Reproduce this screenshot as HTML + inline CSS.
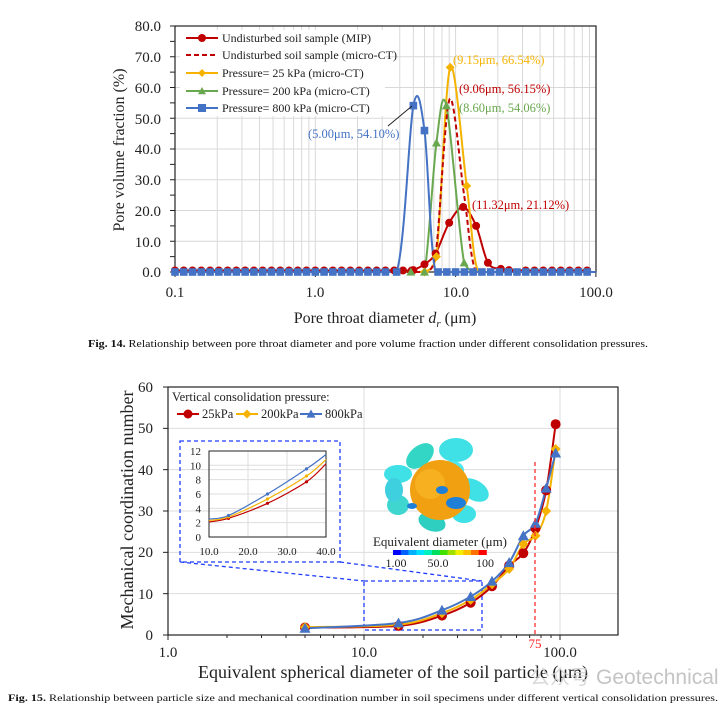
<!DOCTYPE html>
<html><head><meta charset="utf-8"><style>
html,body{margin:0;padding:0;background:#fff;width:726px;height:704px;overflow:hidden}
svg{display:block;font-family:"Liberation Serif","Noto Serif CJK SC",serif}
</style></head><body>
<svg id="s" width="726" height="704" viewBox="0 0 726 704" xmlns="http://www.w3.org/2000/svg">
<g font-size="15" fill="#222" text-anchor="end">
<text x="161" y="31">80.0</text><text x="161" y="62">70.0</text><text x="161" y="93">60.0</text><text x="161" y="124">50.0</text><text x="161" y="154">40.0</text><text x="161" y="185">30.0</text><text x="161" y="216">20.0</text><text x="161" y="247">10.0</text><text x="161" y="277">0.0</text>
</g>
<g font-size="15" fill="#222" text-anchor="middle">
<text x="175" y="297">0.1</text><text x="315" y="297">1.0</text><text x="456" y="297">10.0</text><text x="596" y="297">100.0</text>
</g>
<text x="0" y="0" font-size="16" fill="#222" text-anchor="middle" transform="translate(124,150) rotate(-90)">Pore volume fraction (%)</text>
<text x="385" y="323" font-size="16" fill="#222" text-anchor="middle">Pore throat diameter <tspan font-style="italic">d</tspan><tspan font-style="italic" font-size="11" dy="4">r</tspan><tspan dy="-4"> (μm)</tspan></text>
<text x="88" y="347" font-size="10" fill="#111" font-weight="bold" textLength="560" lengthAdjust="spacingAndGlyphs">Fig. 14.  <tspan font-weight="normal">Relationship between pore throat diameter and pore volume fraction under different consolidation pressures.</tspan></text>

<g font-size="15" fill="#222" text-anchor="end">
<text x="153" y="392">60</text><text x="153" y="433">50</text><text x="153" y="475">40</text><text x="153" y="516">30</text><text x="153" y="557">20</text><text x="153" y="599">10</text><text x="153" y="640">0</text>
</g>
<g font-size="15" fill="#222" text-anchor="middle">
<text x="168" y="657">1.0</text><text x="364" y="657">10.0</text><text x="560" y="657">100.0</text>
</g>
<text x="0" y="0" font-size="18" fill="#222" text-anchor="middle" transform="translate(133,510) rotate(-90)">Mechanical coordination number</text>
<text x="393" y="678" font-size="18" fill="#222" text-anchor="middle">Equivalent spherical diameter of the soil particle (μm)</text>
<text x="530" y="684" font-size="20" fill="#d0d0d0" font-family="Liberation Sans, 'Noto Sans CJK SC', sans-serif" opacity="0.8">公众号</text>
<text x="596" y="684" font-size="21" fill="#c4c4c4" font-family="Liberation Sans, sans-serif">Geotechnical</text>
<text x="8" y="701" font-size="9.5" fill="#111" font-weight="bold" textLength="710" lengthAdjust="spacingAndGlyphs">Fig. 15.  <tspan font-weight="normal">Relationship between particle size and mechanical coordination number in soil specimens under different vertical consolidation pressures.</tspan></text>
<g id="dyn"></g>
</svg>
<script>
var G=document.getElementById("dyn"),H="";
function L(a,b,c,d,st){H+='<line x1="'+a+'" y1="'+b+'" x2="'+c+'" y2="'+d+'" '+st+'/>';}
function smooth(p,cl){var d="M"+p[0][0]+","+p[0][1];for(var i=0;i<p.length-1;i++){var p0=p[i>0?i-1:i],p1=p[i],p2=p[i+1],p3=p[i+2<p.length?i+2:i+1];var t=0.16;
var c1x=p1[0]+(p2[0]-p0[0])*t,c1y=p1[1]+(p2[1]-p0[1])*t,c2x=p2[0]-(p3[0]-p1[0])*t,c2y=p2[1]-(p3[1]-p1[1])*t;
if(cl){c1y=Math.min(c1y,cl);c2y=Math.min(c2y,cl);if(p1[1]>=cl-0.5&&p2[1]>=cl-0.5){c1y=cl;c2y=cl;}
var dx=p2[0]-p1[0];c1x=Math.min(Math.max(c1x,p1[0]),p1[0]+dx*0.5);c2x=Math.max(Math.min(c2x,p2[0]),p2[0]-dx*0.5);}
d+=" C"+c1x+","+c1y+" "+c2x+","+c2y+" "+p2[0]+","+p2[1];}return d;}
function mk(t,x,y,c,r){if(t=="o")H+='<circle cx="'+x+'" cy="'+y+'" r="'+r+'" fill="'+c+'"/>';else if(t=="s")H+='<rect x="'+(x-r)+'" y="'+(y-r)+'" width="'+2*r+'" height="'+2*r+'" fill="'+c+'"/>';else if(t=="d")H+='<path d="M'+x+','+(y-r)+' L'+(x+r)+','+y+' L'+x+','+(y+r)+' L'+(x-r)+','+y+'Z" fill="'+c+'"/>';else H+='<path d="M'+x+','+(y-r)+' L'+(x+r)+','+(y+r*0.8)+' L'+(x-r)+','+(y+r*0.8)+'Z" fill="'+c+'"/>';}
var X1=function(v){return 175+140.3*(Math.log10(v)+1)},Y1=function(v){return 272-v*3.075};
var gs='stroke="#d9d9d9" stroke-width="1"';
for(var k=0;k<=8;k++)L(175,Y1(k*10),596,Y1(k*10),gs);
for(var e=-1;e<2;e++)for(var m=1;m<10;m++){var x=X1(m*Math.pow(10,e));L(x,26,x,272,gs);}
H+='<rect x="175" y="26" width="421" height="246" fill="none" stroke="#222" stroke-width="1.2"/>';
for(var k=0;k<=16;k++){L(170,Y1(k*5),175,Y1(k*5),'stroke="#222"');}
for(var e=-1;e<=2;e++){var x=X1(Math.pow(10,e));L(x,272,x,277,'stroke="#222"');}
H+='<rect x="180" y="30" width="205" height="86" fill="#fff"/>';
var RED="#c00000",YEL="#f5b300",GRN="#6aa84f",BLU="#4472c4";
var base=[];for(var i=0;i<48;i++)base.push(Math.pow(10,-1+i*0.0625));
var mip=[];base.forEach(function(v){if(v<5)mip.push([v,0.5]);});
mip=mip.concat([[5,0.6],[6,2.5],[7.2,6],[9,16],[11.32,21.12],[14,15],[17,3],[21,1],[24,0.6]]);
base.forEach(function(v){if(v>28)mip.push([v,0.5]);});
var mp=mip.map(function(a){return [X1(a[0]),Y1(a[1])]});
var B=Y1(0);
function P(a){return a.map(function(b){return [X1(b[0]),Y1(b[1])]})}
var ct=[[0.1,0],[5,0],[6.3,0],[7.3,8],[9.06,56.15],[11.5,25],[14,0],[100,0]];
var yw=[[0.1,0],[5,0],[6,0],[7.3,5],[9.15,66.54],[12,28],[14.5,0],[100,0]];
var gr=[[0.1,0],[4.8,0],[6,0],[7.3,42],[8.6,54.06],[11.5,3],[14.5,0],[100,0]];
var bl=[[0.1,0],[3.8,0],[5,54.1],[6,46],[7.2,0],[100,0]];
H+='<path d="'+smooth(mp,B)+'" fill="none" stroke="'+RED+'" stroke-width="2"/>';
H+='<path d="'+smooth(P(yw),B)+'" fill="none" stroke="'+YEL+'" stroke-width="2"/>';
H+='<path d="'+smooth(P(gr),B)+'" fill="none" stroke="'+GRN+'" stroke-width="2"/>';
H+='<path d="'+smooth(P(ct),B)+'" fill="none" stroke="'+RED+'" stroke-width="2" stroke-dasharray="5,3"/>';
H+='<path d="'+smooth(P(bl),B)+'" fill="none" stroke="'+BLU+'" stroke-width="2"/>';
mip.forEach(function(a){mk("o",X1(a[0]),Y1(a[1]),RED,4);});
[[7.3,5],[9.15,66.54],[12,28],[6,0]].forEach(function(a){mk("d",X1(a[0]),Y1(a[1]),YEL,4.5);});
[[7.3,42],[8.6,54.06],[11.5,3],[4.8,0],[6,0]].forEach(function(a){mk("t",X1(a[0]),Y1(a[1]),GRN,4.5);});
base.forEach(function(v){if(v<3.5||v>7)mk("s",X1(v),Y1(0),BLU,3.8);});
[[3.8,0],[5,54.1],[6,46]].forEach(function(a){mk("s",X1(a[0]),Y1(a[1]),BLU,3.8);});
var lg=[[38,RED,"o",0,"Undisturbed soil sample (MIP)"],[55,RED,"",1,"Undisturbed soil sample (micro-CT)"],[73,YEL,"d",0,"Pressure= 25 kPa (micro-CT)"],[91,GRN,"t",0,"Pressure= 200 kPa (micro-CT)"],[108,BLU,"s",0,"Pressure= 800 kPa (micro-CT)"]];
lg.forEach(function(r){L(186,r[0],218,r[0],'stroke="'+r[1]+'" stroke-width="2"'+(r[3]?' stroke-dasharray="5,3"':''));if(r[2])mk(r[2],202,r[0],r[1],4);H+='<text x="222" y="'+(r[0]+4)+'" font-size="12" fill="#222">'+r[4]+'</text>';});
H+='<text x="453" y="64" font-size="12.5" fill="'+YEL+'">(9.15μm, 66.54%)</text>';
H+='<text x="459" y="93" font-size="12.5" fill="'+RED+'">(9.06μm, 56.15%)</text>';
H+='<text x="459" y="112" font-size="12.5" fill="'+GRN+'">(8.60μm, 54.06%)</text>';
H+='<text x="308" y="138" font-size="12.5" fill="'+BLU+'">(5.00μm, 54.10%)</text>';
H+='<text x="472" y="209" font-size="12.5" fill="'+RED+'">(11.32μm, 21.12%)</text>';
L(388,126,412,106,'stroke="#222" stroke-width="1"');
// BOTTOM
var X2=function(v){return 168+196*Math.log10(v)},Y2=function(v){return 635-v*4.133};
for(var k=1;k<=6;k++)L(168,Y2(k*10),618,Y2(k*10),'stroke="#ddd"');
[10,100].forEach(function(v){L(X2(v),387,X2(v),635,'stroke="#ddd"');});
H+='<rect x="168" y="387" width="450" height="248" fill="none" stroke="#222" stroke-width="1.2"/>';
for(var e=0;e<3;e++)for(var m=1;m<10;m++){var x=X2(m*Math.pow(10,e));if(x<=618)L(x,635,x,m==1?640:638,'stroke="#222"');}
for(var k=0;k<=6;k++)L(163,Y2(k*10),168,Y2(k*10),'stroke="#222"');
H+='<g>';
[[420,456,16,10,"#33d6c4",-40],[456,450,17,12,"#3fe0e6",0],[398,474,14,9,"#3fe0e6",0],[474,490,16,10,"#3fe0e6",30],[398,505,11,10,"#3fd6d0",0],[432,522,14,9,"#2ecfc0",20],[464,514,12,9,"#3fe0e6",0],[394,490,9,12,"#3fd0e0",0],[452,470,12,9,"#4fe8f0",0]].forEach(function(c){H+='<ellipse cx="'+c[0]+'" cy="'+c[1]+'" rx="'+c[2]+'" ry="'+c[3]+'" fill="'+c[4]+'" transform="rotate('+c[5]+' '+c[0]+' '+c[1]+')"/>';});
H+='<circle cx="440" cy="490" r="30" fill="#f0a010"/><circle cx="430" cy="484" r="15" fill="#f7b020"/>';
H+='<ellipse cx="442" cy="490" rx="6" ry="4" fill="#1e7fd8"/><ellipse cx="456" cy="503" rx="10" ry="6" fill="#1e7fd8"/><ellipse cx="412" cy="506" rx="5" ry="3" fill="#1e7fd8"/>';
H+='</g>';
var cb=["#0000ff","#0060ff","#00b0ff","#00e0ff","#00f0c0","#00e060","#40e000","#a0e000","#f0f000","#ffc000","#ff7000","#ff0000"];
cb.forEach(function(c,i){H+='<rect x="'+(393+i*7.8)+'" y="550" width="8" height="5" fill="'+c+'"/>';});
H+='<text x="440" y="546" font-size="13" fill="#222" text-anchor="middle">Equivalent diameter (μm)</text>';
H+='<text x="396" y="567" font-size="12" fill="#222" text-anchor="middle">1.00</text><text x="438" y="567" font-size="12" fill="#222" text-anchor="middle">50.0</text><text x="485" y="567" font-size="12" fill="#222" text-anchor="middle">100</text>';
var db='stroke="#1f3cff" stroke-width="1.3" stroke-dasharray="4,3" fill="none"';
H+='<rect x="180" y="441" width="160" height="121" '+db+'/>';
H+='<rect x="364" y="581" width="118" height="49" '+db+'/>';
L(180,562,364,581,db);L(340,562,482,581,db);
var IX=function(v){return 209+(v-10)*3.9},IY=function(v){return 537-v*7.17};
for(var k=1;k<=6;k++)L(209,IY(k*2),326,IY(k*2),'stroke="#ddd"');
[20,30].forEach(function(v){L(IX(v),451,IX(v),537,'stroke="#ddd"');});
H+='<rect x="209" y="451" width="117" height="86" fill="none" stroke="#222" stroke-width="1"/>';
for(var k=0;k<=6;k++)H+='<text x="201" y="'+(IY(k*2)+4)+'" font-size="11" fill="#222" text-anchor="end">'+(k*2)+'</text>';
[10,20,30,40].forEach(function(v){H+='<text x="'+IX(v)+'" y="555" font-size="11" fill="#222" text-anchor="middle">'+v+'.0</text>';});
var ixs=[10,15,25,35,40];
[[RED,[2.1,2.6,4.7,7.7,10.2]],[YEL,[2.3,2.8,5.3,8.5,10.8]],[BLU,[2.5,3,6,9.5,11.5]]].forEach(function(s){var p=ixs.map(function(x,i){return [IX(x),IY(s[1][i])]});H+='<path d="'+smooth(p)+'" fill="none" stroke="'+s[0]+'" stroke-width="1.2"/>';p.slice(1,4).forEach(function(q){mk("o",q[0],q[1],s[0],1.6);});});
var xs=[5,15,25,35,45,55,65,75,85,95];
var sr=[[RED,"o",[1.8,2.2,4.7,7.8,11.8,16.8,19.8,25.8,35,51],5],[YEL,"d",[1.9,2.5,5.3,8.5,12.3,16,22,24,30,45],5],[BLU,"t",[1.6,2.9,6,9.3,13,17.5,24,27,35.5,44],5.5]];
sr.forEach(function(s){var p=xs.map(function(x,i){return [X2(x),Y2(s[2][i])]});H+='<path d="'+smooth(p)+'" fill="none" stroke="'+s[0]+'" stroke-width="2"/>';});
sr.forEach(function(s){xs.forEach(function(x,i){mk(s[1],X2(x),Y2(s[2][i]),s[0],s[3]);});});
L(535,462,535,635,'stroke="#ff3030" stroke-width="1.3" stroke-dasharray="4,3"');
H+='<text x="535" y="648" font-size="13" fill="#ff2020" text-anchor="middle">75</text>';
H+='<text x="172" y="401" font-size="12.5" fill="#222">Vertical consolidation pressure:</text>';
[[177,RED,"o","25kPa"],[236,YEL,"d","200kPa"],[300,BLU,"t","800kPa"]].forEach(function(l){L(l[0],414,l[0]+22,414,'stroke="'+l[1]+'" stroke-width="2"');mk(l[2],l[0]+11,414,l[1],4.5);H+='<text x="'+(l[0]+25)+'" y="418" font-size="12.5" fill="#222">'+l[3]+'</text>';});
G.innerHTML=H;
</script>
</body></html>
